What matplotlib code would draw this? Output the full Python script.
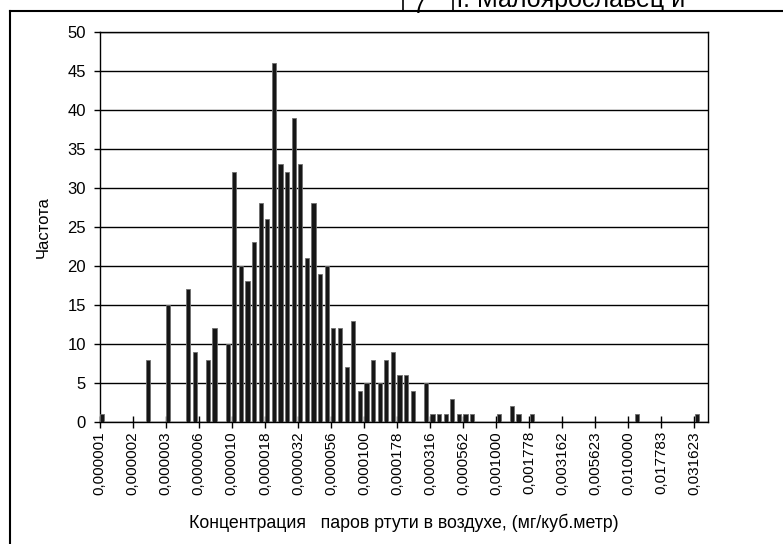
import matplotlib
matplotlib.use("Agg")
import matplotlib.pyplot as plt
from matplotlib.lines import Line2D
import numpy as np

plt.rcParams['font.family'] = ['Liberation Sans', 'DejaVu Sans']

# частоты по интервалам (шаг 0.05 порядка, от 1e-6)
counts = [1, 0, 0, 0, 0, 0, 0, 8, 0, 0,
          15, 0, 0, 17, 9, 0, 8, 12, 0, 10,
          32, 20, 18, 23, 28, 26, 46, 33, 32, 39,
          33, 21, 28, 19, 20, 12, 12, 7, 13, 4,
          5, 8, 5, 8, 9, 6, 6, 4, 0, 5,
          1, 1, 1, 3, 1, 1, 1, 0, 0, 0,
          1, 0, 2, 1, 0, 1, 0, 0, 0, 0,
          0, 0, 0, 0, 0, 0, 0, 0, 0, 0,
          0, 1, 0, 0, 0, 0, 0, 0, 0, 0,
          1]
tick_labels = ['0,000001', '0,000002', '0,000003', '0,000006', '0,000010',
               '0,000018', '0,000032', '0,000056', '0,000100', '0,000178',
               '0,000316', '0,000562', '0,001000', '0,001778', '0,003162',
               '0,005623', '0,010000', '0,017783', '0,031623']
y_ticks = [0, 5, 10, 15, 20, 25, 30, 35, 40, 45, 50]

fig = plt.figure(figsize=(7.83, 5.44), dpi=100)
ax = fig.add_axes([0.1273, 0.2243, 0.7765, 0.7174])

x = np.arange(len(counts))
ax.bar(x + 0.05, counts, width=0.63, align='edge', color='#161616',
       edgecolor='#6f6f6f', linewidth=0.6, zorder=3)

ax.set_xlim(0, 92)
ax.set_ylim(0, 50)
ax.set_yticks(y_ticks)
ax.yaxis.grid(True, color='black', linewidth=1.0, zorder=1)
ax.tick_params(axis='y', direction='out', length=4, width=1, pad=6,
               labelsize=12)
ax.set_xticks(np.arange(0, len(counts), 5))
ax.set_xticklabels(tick_labels, rotation=90, fontsize=11)
ax.tick_params(axis='x', direction='inout', length=9, width=1, pad=2)
for s in ax.spines.values():
    s.set_linewidth(1.0)
    s.set_color('black')

ax.set_ylabel('Частота', fontsize=12, labelpad=12)
ax.set_xlabel('Концентрация   паров ртути в воздухе, (мг/куб.метр)',
              fontsize=12.8, labelpad=14)

# рамка листа и обрывок таблицы сверху
H = 544.0
W = 783.0
fig.add_artist(Line2D([10 / W, 1], [1 - 11 / H, 1 - 11 / H], color='black',
                      linewidth=1.5, transform=fig.transFigure))
fig.add_artist(Line2D([10 / W, 10 / W], [0, 1 - 11 / H], color='black',
                      linewidth=1.5, transform=fig.transFigure))
for xv in (403, 453):
    fig.add_artist(Line2D([xv / W, xv / W], [1 - 11 / H, 1], color='black',
                          linewidth=1.2, transform=fig.transFigure))
fig.text(419 / W, 1 - 13 / H, '7', fontsize=17, ha='center', va='baseline')
fig.text(457 / W, 1 - 7 / H, 'г. Малоярославец и', fontsize=18,
         ha='left', va='baseline')

fig.savefig('out.png', dpi=100)
